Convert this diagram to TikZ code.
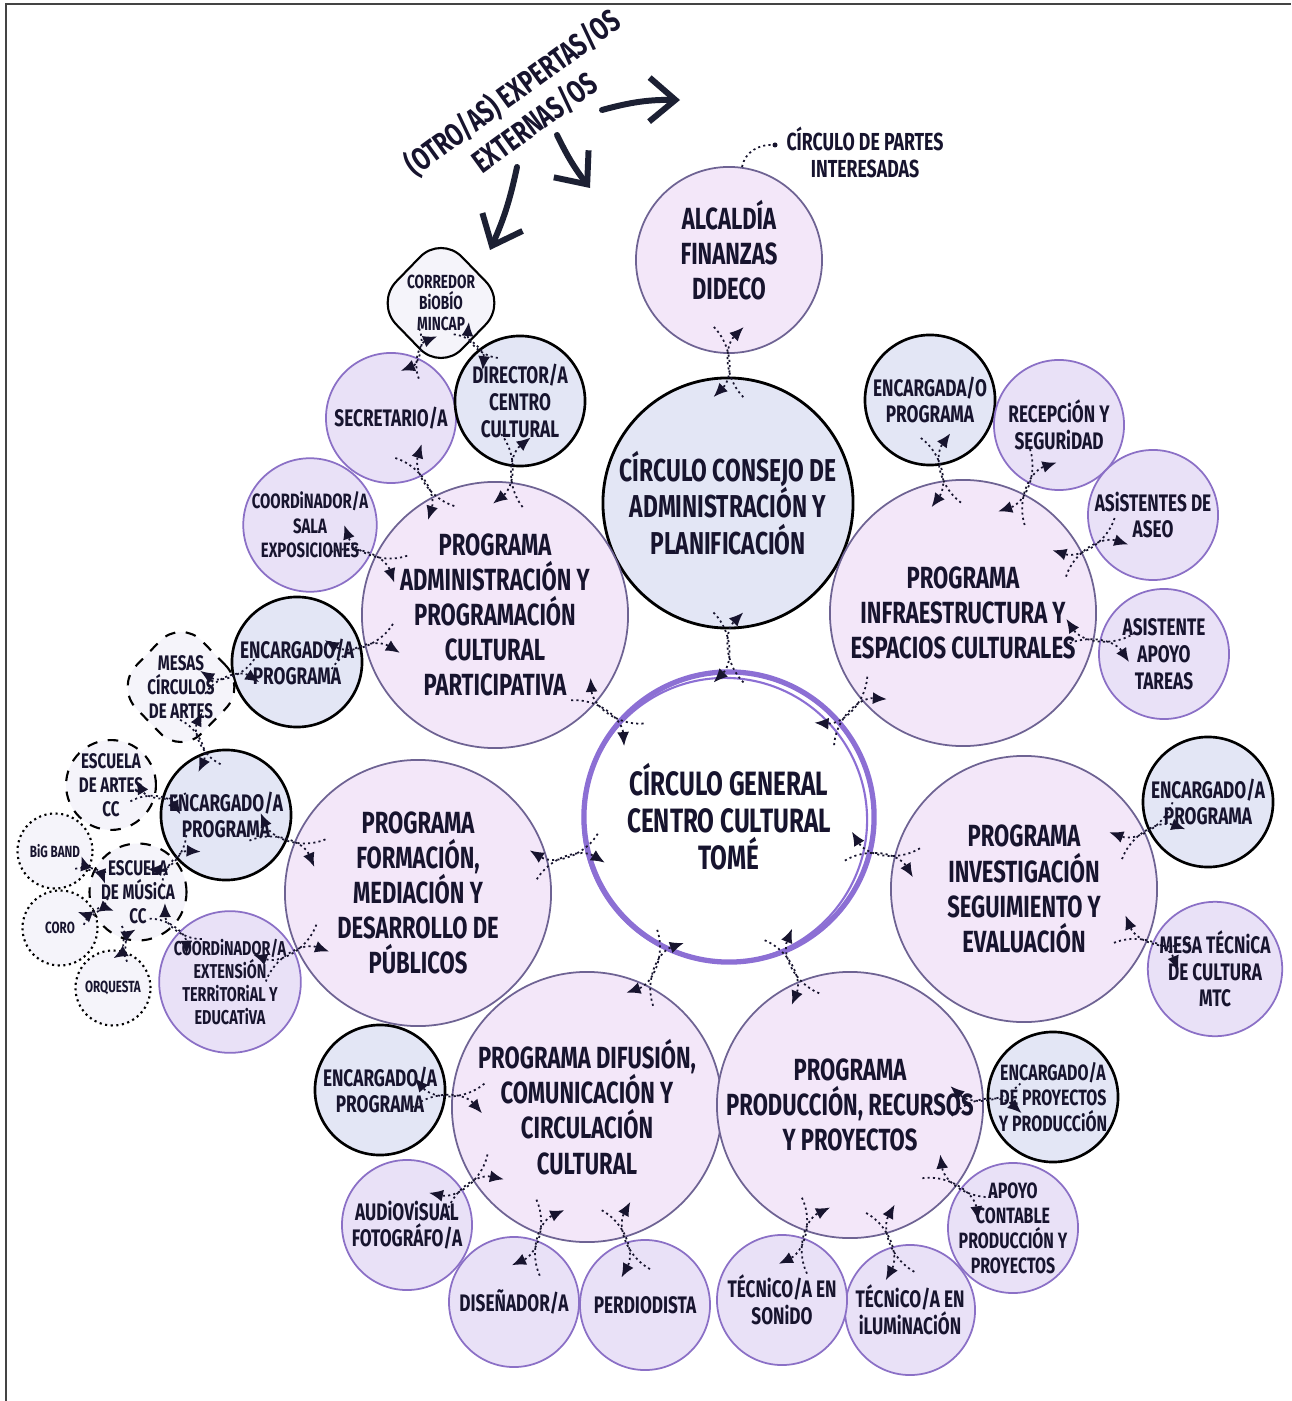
\documentclass[tikz,border=0pt]{standalone}
\usepackage{fontspec}
\setmainfont{Fira Sans}[FakeStretch=0.72]
\usetikzlibrary{positioning,calc,arrows.meta,shapes.geometric}

\definecolor{ink}{HTML}{17142E}
\definecolor{navy}{HTML}{1C2033}
\definecolor{progfill}{HTML}{F3E7F9}
\definecolor{progline}{HTML}{6E6393}
\definecolor{rolefill}{HTML}{E3E6F5}
\definecolor{stafffill}{HTML}{E9E1F7}
\definecolor{staffline}{HTML}{8B70C6}
\definecolor{extfill}{HTML}{F5F4FA}
\definecolor{ring}{HTML}{8C6FD4}
\definecolor{framegray}{HTML}{444444}

% two crossing dotted arrows between two circles
\newcommand\link[4][0.38cm]{%
  \coordinate (p) at ($(#2)!#4!(#3)$);
  \draw[dotarrow] ($(p)!#1!203:(#3)$) to[bend left=45] ($(p)!#1!-23:(#3)$);
  \draw[dotarrow] ($(p)!#1!23:(#3)$) to[bend left=45] ($(p)!#1!157:(#3)$);
}

\begin{document}
\begin{tikzpicture}[
    x=0.01cm, y=-0.01cm,
    every node/.style={align=center, text=ink, inner sep=0pt},
    progfont/.style={font=\bfseries\fontsize{8.7}{10}\selectfont},
    prog/.style={circle, draw=progline, line width=0.5pt, fill=progfill, minimum size=2.66cm, progfont},
    rolebox/.style={circle, draw=black, line width=0.75pt, fill=rolefill, minimum size=1.3cm,
      font=\bfseries\fontsize{6.8}{7.6}\selectfont},
    staffbox/.style={rolebox, draw=staffline, line width=0.5pt, fill=stafffill},
    schoolbox/.style={circle, draw=black, dashed, line width=0.6pt, fill=extfill, minimum size=0.88cm,
      font=\bfseries\fontsize{6}{6.8}\selectfont},
    ensemble/.style={circle, draw=black, densely dotted, line width=0.6pt, fill=extfill, minimum size=0.75cm,
      font=\bfseries\fontsize{4.6}{5}\selectfont},
    blob/.style={diamond, rounded corners=0.3cm, draw=black, line width=0.6pt, fill=extfill, inner sep=-4pt,
      minimum width=1.32cm, minimum height=1.36cm, font=\bfseries\fontsize{5.4}{5.9}\selectfont},
    dotarrow/.style={line width=0.5pt, dash pattern=on 0.6pt off 0.9pt, draw=ink,
      -{Latex[length=1.4mm,width=1.2mm]}},
    bigarrow/.style={line width=1.7pt, draw=navy, line cap=round,
      -{Straight Barb[length=2.6mm,width=4.4mm]}}
]
\useasboundingbox (0,0) rectangle (1291,1401);
\draw[framegray, line width=0.6pt] (6,1401) -- (6,4) -- (1291,4);

% outside experts
\node[rotate=36, font=\bfseries\fontsize{9}{10.6}\selectfont] (expertos) at (523,107) {(OTRO/AS) EXPERTAS/OS\\EXTERNAS/OS};
\coordinate (a1s) at (602,110);
\coordinate (a1e) at (680,100);
\coordinate (a2s) at (557,135);
\coordinate (a2e) at (590,188);
\coordinate (a3s) at (517,167);
\coordinate (a3e) at (490,250);
\draw[bigarrow] (a1s) to[bend left=8] (a1e);
\draw[bigarrow] (a2s) to[bend right=6] (a2e);
\draw[bigarrow] (a3s) to[bend left=6] (a3e);

% core circles
\node[prog, minimum size=1.86cm,
  label={[yshift=0.1cm, progfont]center:{ALCALDÍA\\FINANZAS\\DIDECO}}] (alcaldia) at (729,260) {};
\node[font=\bfseries\fontsize{7}{7.7}\selectfont] (partes) at (865,152) {CÍRCULO DE PARTES\\INTERESADAS};
\coordinate (pdot) at (775,145);
\draw[line width=0.5pt, dash pattern=on 0.6pt off 0.9pt, ink] (alcaldia.82) to[out=80, in=175] (pdot);
\fill[ink] (pdot) circle[radius=0.025cm];

\node[prog, fill=rolefill, draw=black, line width=0.8pt, minimum size=2.5cm,
  font=\bfseries\fontsize{9}{10.4}\selectfont] (consejo) at (728,503) {CÍRCULO CONSEJO DE\\ADMINISTRACIÓN Y\\PLANIFICACIÓN};
\node[prog, fill=white, draw=ring, line width=1.5pt, minimum size=2.9cm,
  font=\bfseries\fontsize{9.6}{10.5}\selectfont] (central) at (729,817) {CÍRCULO GENERAL\\CENTRO CULTURAL\\TOMÉ};
\draw[ring, line width=0.6pt] ($(central.center)+(-4,3)$) circle[radius=1.42cm];

\node[prog] (admin) at (495,615) {PROGRAMA\\ADMINISTRACIÓN Y\\PROGRAMACIÓN\\CULTURAL\\PARTICIPATIVA};
\node[prog] (infra) at (963,613) {PROGRAMA\\INFRAESTRUCTURA Y\\ESPACIOS CULTURALES};
\node[prog] (formacion) at (418,893) {PROGRAMA\\FORMACIÓN,\\MEDIACIÓN Y\\DESARROLLO DE\\PÚBLICOS};
\node[prog] (investig) at (1024,889) {PROGRAMA\\INVESTIGACIÓN\\SEGUIMIENTO Y\\EVALUACIÓN};
\node[prog, minimum size=2.7cm] (difusion) at (587,1107) {PROGRAMA DIFUSIÓN,\\COMUNICACIÓN Y\\CIRCULACIÓN\\CULTURAL};
\node[prog] (produccion) at (850,1105) {PROGRAMA\\PRODUCCIÓN, RECURSOS\\Y PROYECTOS};

% administration
\node[staffbox] (secretario) at (391,418) {SECRETARIO/A};
\node[rolebox] (director) at (520,401) {DIRECTOR/A\\CENTRO\\CULTURAL};
\node[blob] (corredor) at (441,303) {CORREDOR\\BiOBÍO\\MINCAP};
\node[staffbox, font=\bfseries\fontsize{5.9}{7}\selectfont] (coordsala) at (310,525) {COORDiNADOR/A\\SALA\\EXPOSICIONES};
\node[rolebox] (encadmin) at (297,662) {ENCARGADO/A\\PROGRAMA};
\node[blob, dashed, font=\bfseries\fontsize{6}{6.8}\selectfont] (mesas) at (181,687) {MESAS\\CÍRCULOS\\DE ARTES};

% formation
\node[rolebox] (encform) at (226,815) {ENCARGADO/A\\PROGRAMA};
\node[schoolbox] (escartes) at (111,785) {ESCUELA\\DE ARTES\\CC};
\node[schoolbox] (escmus) at (138,892) {ESCUELA\\DE MÚSiCA\\CC};
\node[ensemble] (bigband) at (55,851) {BiG BAND};
\node[ensemble] (coro) at (60,928) {CORO};
\node[ensemble] (orquesta) at (113,988) {ORQUESTA};
\node[staffbox, font=\bfseries\fontsize{5.7}{6.6}\selectfont] (coordext) at (230,982) {COORDiNADOR/A\\EXTENSiÓN\\TERRiTORiAL Y\\EDUCATiVA};

% infrastructure
\node[rolebox] (encinfra) at (930,400) {ENCARGADA/O\\PROGRAMA};
\node[staffbox] (recepcion) at (1059,425) {RECEPCiÓN Y\\SEGURiDAD};
\node[staffbox] (aseo) at (1153,515) {ASiSTENTES DE\\ASEO};
\node[staffbox] (apoyo) at (1164,654) {ASISTENTE\\APOYO\\TAREAS};

% research
\node[rolebox] (encinv) at (1208,802) {ENCARGADO/A\\PROGRAMA};
\node[staffbox] (mesatec) at (1215,969) {MESA TÉCNiCA\\DE CULTURA\\MTC};

% production
\node[rolebox, inner sep=-2pt, font=\bfseries\fontsize{6.3}{7.3}\selectfont] (encprod) at (1053,1097) {ENCARGADO/A\\DE PROYECTOS\\Y PRODUCCiÓN};
\node[staffbox, inner sep=-2pt, font=\bfseries\fontsize{6.3}{7.1}\selectfont] (contable) at (1013,1228) {APOYO\\CONTABLE\\PRODUCCIÓN Y\\PROYECTOS};
\node[staffbox] (ilum) at (910,1310) {TÉCNiCO/A EN\\iLUMiNACiÓN};
\node[staffbox] (sonido) at (782,1300) {TÉCNiCO/A EN\\SONiDO};

% diffusion
\node[rolebox] (encdif) at (380,1090) {ENCARGADO/A\\PROGRAMA};
\node[staffbox] (audio) at (407,1225) {AUDiOViSUAL\\FOTOGRÁFO/A};
\node[staffbox] (disenador) at (514,1302) {DISEÑADOR/A};
\node[staffbox] (periodista) at (645,1305) {PERDIODISTA};

% links
\link{alcaldia}{consejo}{0.42}
\link{consejo}{central}{0.46}
\link{central}{admin}{0.52}
\link{central}{infra}{0.52}
\link{central}{formacion}{0.52}
\link{central}{investig}{0.52}
\link{central}{difusion}{0.52}
\link{central}{produccion}{0.52}
\link{admin}{secretario}{0.675}
\link{admin}{director}{0.675}
\link{admin}{coordsala}{0.68}
\link{admin}{encadmin}{0.67}
\link[0.25cm]{corredor}{secretario}{0.44}
\link[0.25cm]{corredor}{director}{0.44}
\link[0.3cm]{mesas}{encadmin}{0.42}
\link[0.3cm]{mesas}{encform}{0.43}
\link{encform}{formacion}{0.32}
\link[0.28cm]{escartes}{encform}{0.41}
\link[0.28cm]{escmus}{encform}{0.41}
\link[0.18cm]{bigband}{escmus}{0.46}
\link[0.18cm]{coro}{escmus}{0.46}
\link[0.18cm]{orquesta}{escmus}{0.46}
\link[0.28cm]{escmus}{coordext}{0.41}
\link{coordext}{formacion}{0.325}
\link{infra}{encinfra}{0.67}
\link{infra}{recepcion}{0.67}
\link{infra}{aseo}{0.67}
\link{infra}{apoyo}{0.67}
\link{investig}{encinv}{0.67}
\link{investig}{mesatec}{0.67}
\link{produccion}{encprod}{0.67}
\link{produccion}{contable}{0.67}
\link{produccion}{ilum}{0.67}
\link{produccion}{sonido}{0.67}
\link{difusion}{encdif}{0.67}
\link{difusion}{audio}{0.67}
\link{difusion}{disenador}{0.67}
\link{difusion}{periodista}{0.67}
\end{tikzpicture}
\end{document}
